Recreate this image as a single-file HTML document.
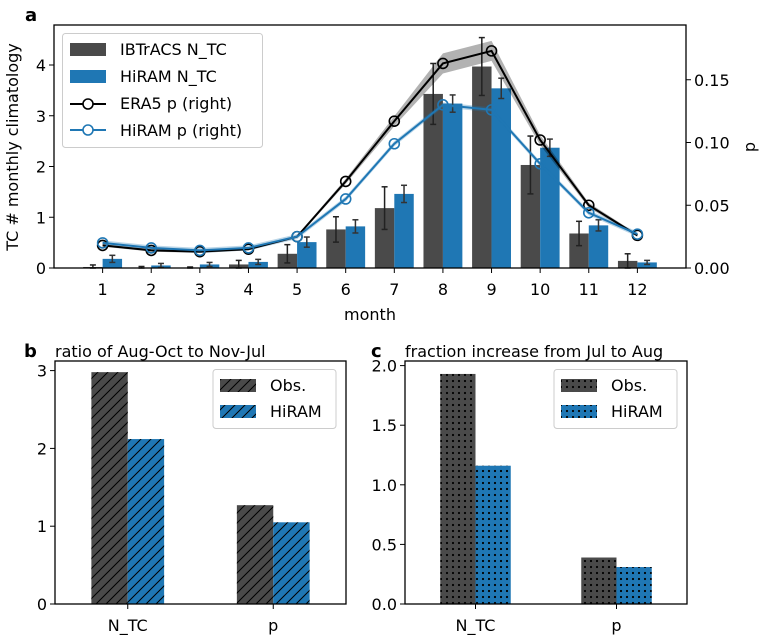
<!DOCTYPE html>
<html><head><meta charset="utf-8"><style>
body{margin:0;background:#fff}
svg{display:block;font-family:"DejaVu Sans","Liberation Sans",sans-serif}
</style></head><body>
<svg id="fig" width="768" height="640" viewBox="0 0 768 640" xmlns="http://www.w3.org/2000/svg">
<defs>
<pattern id="hatch" patternUnits="userSpaceOnUse" width="10" height="10">
<path d="M-2,12 L12,-2 M-2,2 L2,-2 M8,12 L12,8" stroke="#000" stroke-width="1"/>
</pattern>
<pattern id="dots" patternUnits="userSpaceOnUse" width="6" height="6">
<circle cx="3" cy="3" r="1.1" fill="#000"/>
</pattern>
</defs>
</svg>
<script>
// ---- panel a data ----
const months = [1,2,3,4,5,6,7,8,9,10,11,12];
const obsNTC = [0.02,0.01,0.01,0.07,0.28,0.76,1.18,3.43,3.97,2.03,0.68,0.14];
const obsNTCerr = [0.04,0.02,0.01,0.08,0.18,0.25,0.42,0.6,0.57,0.57,0.24,0.14];
const hiramNTC = [0.18,0.05,0.07,0.12,0.51,0.82,1.46,3.24,3.54,2.37,0.84,0.11];
const hiramNTCerr = [0.07,0.04,0.04,0.05,0.1,0.13,0.17,0.17,0.2,0.17,0.11,0.04];
const era5P = [0.018,0.014,0.013,0.015,0.025,0.069,0.117,0.163,0.173,0.102,0.050,0.026];
const era5Pband = [0.001,0.001,0.001,0.001,0.001,0.002,0.004,0.008,0.008,0.004,0.002,0.001];
const hiramP = [0.020,0.016,0.014,0.016,0.025,0.055,0.099,0.130,0.126,0.083,0.044,0.027];
const leftTicks = [0,1,2,3,4];
const rightTicks = ["0.00","0.05","0.10","0.15"];
// ---- panel b data ----
const bCats = ["N_TC","p"];
const bObs = [2.98,1.27];
const bHiram = [2.12,1.05];
const bTicks = [0,1,2,3];
// ---- panel c data ----
const cCats = ["N_TC","p"];
const cObs = [1.93,0.39];
const cHiram = [1.16,0.31];
const cTicks = ["0.0","0.5","1.0","1.5","2.0"];

const svg = document.getElementById('fig');
const NS = 'http://www.w3.org/2000/svg';
function mk(tag, attrs, parent){const e=document.createElementNS(NS,tag);for(const k in attrs)e.setAttribute(k,attrs[k]);(parent||svg).appendChild(e);return e;}
function txt(s, attrs, parent){const e=mk('text',attrs,parent);e.textContent=s;return e;}
const DARK='#4a4a4a', BLUE='#1f77b4';
const FS=16;

// ---- panel a ----
const A={l:54,r:686,t:25,b:268};
const xa = m => A.l + m*(A.r-A.l)/13;
const yL = v => A.b - v*50.75;
const yR = v => A.b - v*1255;
const ga = mk('g',{});


const bw = 0.4*(A.r-A.l)/13;
months.forEach((m,i)=>{
  let r=mk('rect',{x:xa(m)-bw,y:yL(obsNTC[i]),width:bw,height:A.b-yL(obsNTC[i]),fill:DARK},ga);
  
  
  r=mk('rect',{x:xa(m),y:yL(hiramNTC[i]),width:bw,height:A.b-yL(hiramNTC[i]),fill:BLUE},ga);
  
  
});
function errbar(x,v,e,col){
  const y1=yL(Math.max(0,v-e)), y2=yL(v+e);
  mk('line',{x1:x,x2:x,y1:y1,y2:y2,stroke:col,'stroke-width':1.5},ga);
  mk('line',{x1:x-3,x2:x+3,y1:y1,y2:y1,stroke:col,'stroke-width':1.5},ga);
  mk('line',{x1:x-3,x2:x+3,y1:y2,y2:y2,stroke:col,'stroke-width':1.5},ga);
}
months.forEach((m,i)=>{
  errbar(xa(m)-bw/2,obsNTC[i],obsNTCerr[i],'#222');
  errbar(xa(m)+bw/2,hiramNTC[i],hiramNTCerr[i],'#333');
});
let up=months.map((m,i)=>xa(m)+','+yR(era5P[i]+era5Pband[i]));
let dn=months.map((m,i)=>xa(m)+','+yR(era5P[i]-era5Pband[i])).reverse();
mk('polygon',{points:up.concat(dn).join(' '),fill:'#000','fill-opacity':0.3},ga);
let hup=months.map((m,i)=>xa(m)+','+yR(hiramP[i]+0.002));
let hdn=months.map((m,i)=>xa(m)+','+yR(hiramP[i]-0.002)).reverse();
mk('polygon',{points:hup.concat(hdn).join(' '),fill:BLUE,'fill-opacity':0.3},ga);
function pline(vals,col,name){
  const p=mk('polyline',{points:months.map((m,i)=>xa(m)+','+yR(vals[i])).join(' '),fill:'none',stroke:col,'stroke-width':2},ga);
  
  
  months.forEach((m,i)=>{mk('circle',{cx:xa(m),cy:yR(vals[i]),r:5,fill:'none',stroke:col,'stroke-width':1.6},ga);});
}
pline(era5P,'#000','line-era5-p');
pline(hiramP,BLUE,'line-hiram-p');
mk('rect',{x:A.l,y:A.t,width:A.r-A.l,height:A.b-A.t,fill:'none',stroke:'#000','stroke-width':1.3},ga);
leftTicks.forEach(v=>{mk('line',{x1:A.l-5,x2:A.l,y1:yL(v),y2:yL(v),stroke:'#000'},ga);txt(String(v),{x:A.l-8,y:yL(v)+6,'text-anchor':'end','font-size':FS},ga);});
rightTicks.forEach(s=>{const v=parseFloat(s);mk('line',{x1:A.r,x2:A.r+5,y1:yR(v),y2:yR(v),stroke:'#000'},ga);txt(s,{x:A.r+8,y:yR(v)+6,'font-size':FS},ga);});
months.forEach(m=>{mk('line',{x1:xa(m),x2:xa(m),y1:A.b,y2:A.b+5,stroke:'#000'},ga);txt(String(m),{x:xa(m),y:A.b+27,'text-anchor':'middle','font-size':FS},ga);});
let t=txt('month',{x:370,y:320,'text-anchor':'middle','font-size':FS},ga);

t=txt('TC # monthly climatology',{x:18,y:147,'text-anchor':'middle','font-size':FS,transform:'rotate(-90 18 147)'},ga);

t=txt('p',{x:755,y:147,'text-anchor':'middle','font-size':FS,transform:'rotate(-90 755 147)'},ga);

t=txt('a',{x:25,y:21,'font-size':18,'font-weight':'bold'},ga);

const lg=mk('g',{},ga);


mk('rect',{x:62.5,y:33.5,width:200,height:114,rx:3,fill:'#fff','fill-opacity':0.8,stroke:'#ccc'},lg);
mk('rect',{x:70,y:43,width:36,height:13,fill:DARK},lg);
mk('rect',{x:70,y:70,width:36,height:13,fill:BLUE},lg);
mk('line',{x1:70,x2:106,y1:104,y2:104,stroke:'#000','stroke-width':2},lg);
mk('circle',{cx:88,cy:104,r:5,fill:'#fff',stroke:'#000','stroke-width':1.6},lg);
mk('line',{x1:70,x2:106,y1:130,y2:130,stroke:BLUE,'stroke-width':2},lg);
mk('circle',{cx:88,cy:130,r:5,fill:'#fff',stroke:BLUE,'stroke-width':1.6},lg);
['IBTrACS N_TC','HiRAM N_TC','ERA5 p (right)','HiRAM p (right)'].forEach((s,i)=>{txt(s,{x:120,y:[55,82,109,136][i],'font-size':FS},lg);});

// ---- bar panels ----
function barPanel(P,cats,obs,hir,ticks,scale,fill,title,label,lx,name){
  const g=mk('g',{});
  
  
  const xc=i=>P.l+(i+0.5)*(P.r-P.l)/2;
  const bw=0.25*(P.r-P.l)/2;
  const y=v=>P.b-v*scale;
  cats.forEach((c,i)=>{
    [[obs[i],DARK,-bw,'obs'],[hir[i],BLUE,0,'hiram']].forEach(([v,col,off,nm])=>{
      const r=mk('rect',{x:xc(i)+off,y:y(v),width:bw,height:P.b-y(v),fill:col},g);
      
      
      mk('rect',{x:xc(i)+off,y:y(v),width:bw,height:P.b-y(v),fill:'url(#'+fill+')'},g);
    });
    mk('line',{x1:xc(i),x2:xc(i),y1:P.b,y2:P.b+5,stroke:'#000'},g);
    txt(c,{x:xc(i),y:P.b+27,'text-anchor':'middle','font-size':FS},g);
  });
  ticks.forEach(s=>{const v=parseFloat(s);mk('line',{x1:P.l-5,x2:P.l,y1:y(v),y2:y(v),stroke:'#000'},g);txt(String(s),{x:P.l-8,y:y(v)+6,'text-anchor':'end','font-size':FS},g);});
  mk('rect',{x:P.l,y:P.t,width:P.r-P.l,height:P.b-P.t,fill:'none',stroke:'#000','stroke-width':1.3},g);
  txt(title,{x:P.l,y:357,'font-size':FS},g);
  txt(label,{x:lx,y:357,'font-size':18,'font-weight':'bold'},g);
  const L=mk('g',{},g);
  
  
  const lx0=P.r-133;
  mk('rect',{x:lx0,y:369.5,width:123,height:59,rx:3,fill:'#fff',stroke:'#ccc'},L);
  [[DARK,'Obs.',379],[BLUE,'HiRAM',405]].forEach(([col,s,yy])=>{
    mk('rect',{x:lx0+7,y:yy,width:36,height:13,fill:col},L);
    mk('rect',{x:lx0+7,y:yy,width:36,height:13,fill:'url(#'+fill+')'},L);
    txt(s,{x:lx0+57,y:yy+12,'font-size':FS},L);
  });
}
barPanel({l:55,r:346,t:361,b:604},bCats,bObs,bHiram,bTicks,77.8,'hatch','ratio of Aug-Oct to Nov-Jul','b',24,'panel-b');
barPanel({l:405,r:687,t:361,b:604},cCats,cObs,cHiram,cTicks,119.2,'dots','fraction increase from Jul to Aug','c',371,'panel-c');
</script>
</body></html>
